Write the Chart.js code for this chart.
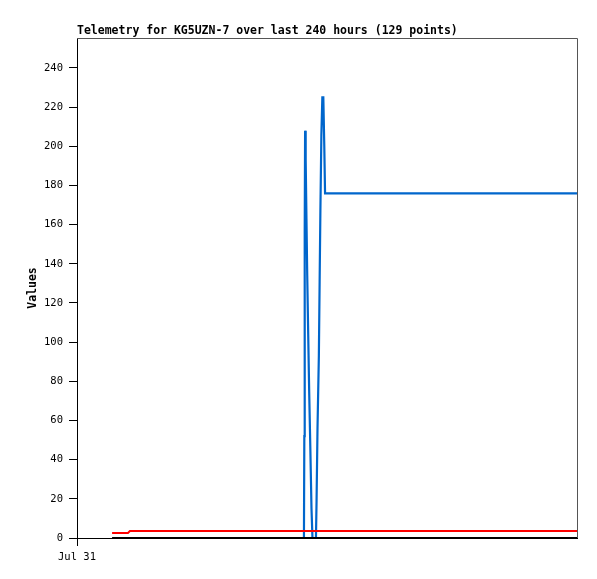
<!DOCTYPE html>
<html>
<head>
<meta charset="utf-8">
<title>Telemetry for KG5UZN-7</title>
<script src="https://cdn.jsdelivr.net/npm/chart.js@4.4.1/dist/chart.umd.min.js"></script>
<style>
    body { margin: 0; background: #fff; }
    canvas { display: block; }
</style>
</head>
<body>
<canvas id="telemetryChart" width="597" height="579"></canvas>
<script>
// hours since Jul 31 00:00
const titleText = 'Telemetry for KG5UZN-7 over last 240 hours (129 points)';
const xTickLabels = ['Jul 31'];

const ch1Hours = [18.1, 258.0];
const ch1Values = [0, 0];

const ch2Hours = [18.1, 26.3, 27.3, 258.0];
const ch2Values = [2.6, 2.6, 3.6, 3.6];

const ch3Hours = [117.1, 117.3, 117.5, 117.7, 118.0, 118.4, 118.8, 119.3, 119.8, 120.4, 121.0, 121.5,
                  123.3, 123.6, 124.1, 124.8, 125.2, 125.6, 126.1, 126.6, 127.1, 127.6, 128.0, 258.0];
const ch3Values = [0, 52, 157, 208, 193, 163, 134, 104, 75, 46, 15, 0,
                   0, 18, 56, 93, 131, 168, 206, 225, 225, 200, 176, 176];

function toPoints(xs, ys) {
    return xs.map((x, i) => ({ x: x, y: ys[i] }));
}

const monoFont = '"DejaVu Sans Mono", "Liberation Mono", monospace';

// title and the grey top/right frame, drawn like gnuplot does
const framePlugin = {
    id: 'frame',
    beforeDatasetsDraw(chart) {
        const { ctx, chartArea } = chart;
        ctx.save();
        ctx.strokeStyle = '#555';
        ctx.lineWidth = 1;
        ctx.beginPath();
        ctx.moveTo(chartArea.left, chartArea.top + 0.5);
        ctx.lineTo(chartArea.right + 0.5, chartArea.top + 0.5);
        ctx.lineTo(chartArea.right + 0.5, chartArea.bottom);
        ctx.stroke();
        // x tick also crosses into the plot a little
        ctx.strokeStyle = '#000';
        ctx.beginPath();
        ctx.moveTo(chartArea.left + 0.5, chartArea.bottom);
        ctx.lineTo(chartArea.left + 0.5, chartArea.bottom - 8);
        ctx.stroke();
        ctx.restore();
    },
    afterDraw(chart) {
        const { ctx, chartArea } = chart;
        ctx.save();
        ctx.fillStyle = '#000';
        ctx.font = 'bold 11.5px ' + monoFont;
        ctx.textBaseline = 'middle';
        ctx.textAlign = 'left';
        ctx.fillText(titleText, chartArea.left, 31);
        ctx.restore();
    }
};

const ctx = document.getElementById('telemetryChart').getContext('2d');
const chart = new Chart(ctx, {
    type: 'line',
    data: {
        datasets: [
            {
                label: 'ch1',
                data: toPoints(ch1Hours, ch1Values),
                borderColor: '#000000',
                borderWidth: 2,
                clip: 4
            },
            {
                label: 'ch2',
                data: toPoints(ch2Hours, ch2Values),
                borderColor: '#ff0000',
                borderWidth: 2,
                clip: 4
            },
            {
                label: 'ch3',
                data: toPoints(ch3Hours, ch3Values),
                borderColor: '#0066cc',
                borderWidth: 2.2,
                clip: 4
            }
        ]
    },
    options: {
        responsive: false,
        animation: false,
        elements: {
            point: { radius: 0, hoverRadius: 0 },
            line: { tension: 0 }
        },
        layout: {
            padding: { left: 0, right: 20, top: 38, bottom: 0 }
        },
        plugins: {
            legend: { display: false },
            tooltip: { enabled: false },
            title: { display: false }
        },
        scales: {
            x: {
                type: 'linear',
                min: 0,
                max: 258,
                afterBuildTicks: scale => {
                    scale.ticks = [{ value: 0 }];
                },
                afterFit: scale => {
                    scale.height = 41;
                },
                border: { display: true, color: '#000', width: 1 },
                grid: {
                    drawOnChartArea: false,
                    drawTicks: true,
                    tickLength: 8,
                    color: '#000'
                },
                ticks: {
                    padding: 5,
                    maxRotation: 0,
                    color: '#000',
                    font: { family: monoFont, size: 10.5 },
                    callback: (value, index) => xTickLabels[index]
                }
            },
            y: {
                type: 'linear',
                min: 0,
                max: 255.3,
                afterBuildTicks: scale => {
                    const t = [];
                    for (let v = 0; v <= 240; v += 20) t.push({ value: v });
                    scale.ticks = t;
                },
                afterFit: scale => {
                    scale.width = 77;
                },
                border: { display: true, color: '#000', width: 1 },
                grid: {
                    drawOnChartArea: false,
                    drawTicks: true,
                    tickLength: 8,
                    color: '#000'
                },
                ticks: {
                    padding: 6,
                    color: '#000',
                    font: { family: monoFont, size: 10.5 }
                },
                title: {
                    display: true,
                    text: 'Values',
                    color: '#000',
                    font: { family: monoFont, size: 11.5, weight: 'bold' },
                    padding: { top: 26, bottom: 0 }
                }
            }
        }
    },
    plugins: [framePlugin]
});
</script>
</body>
</html>
